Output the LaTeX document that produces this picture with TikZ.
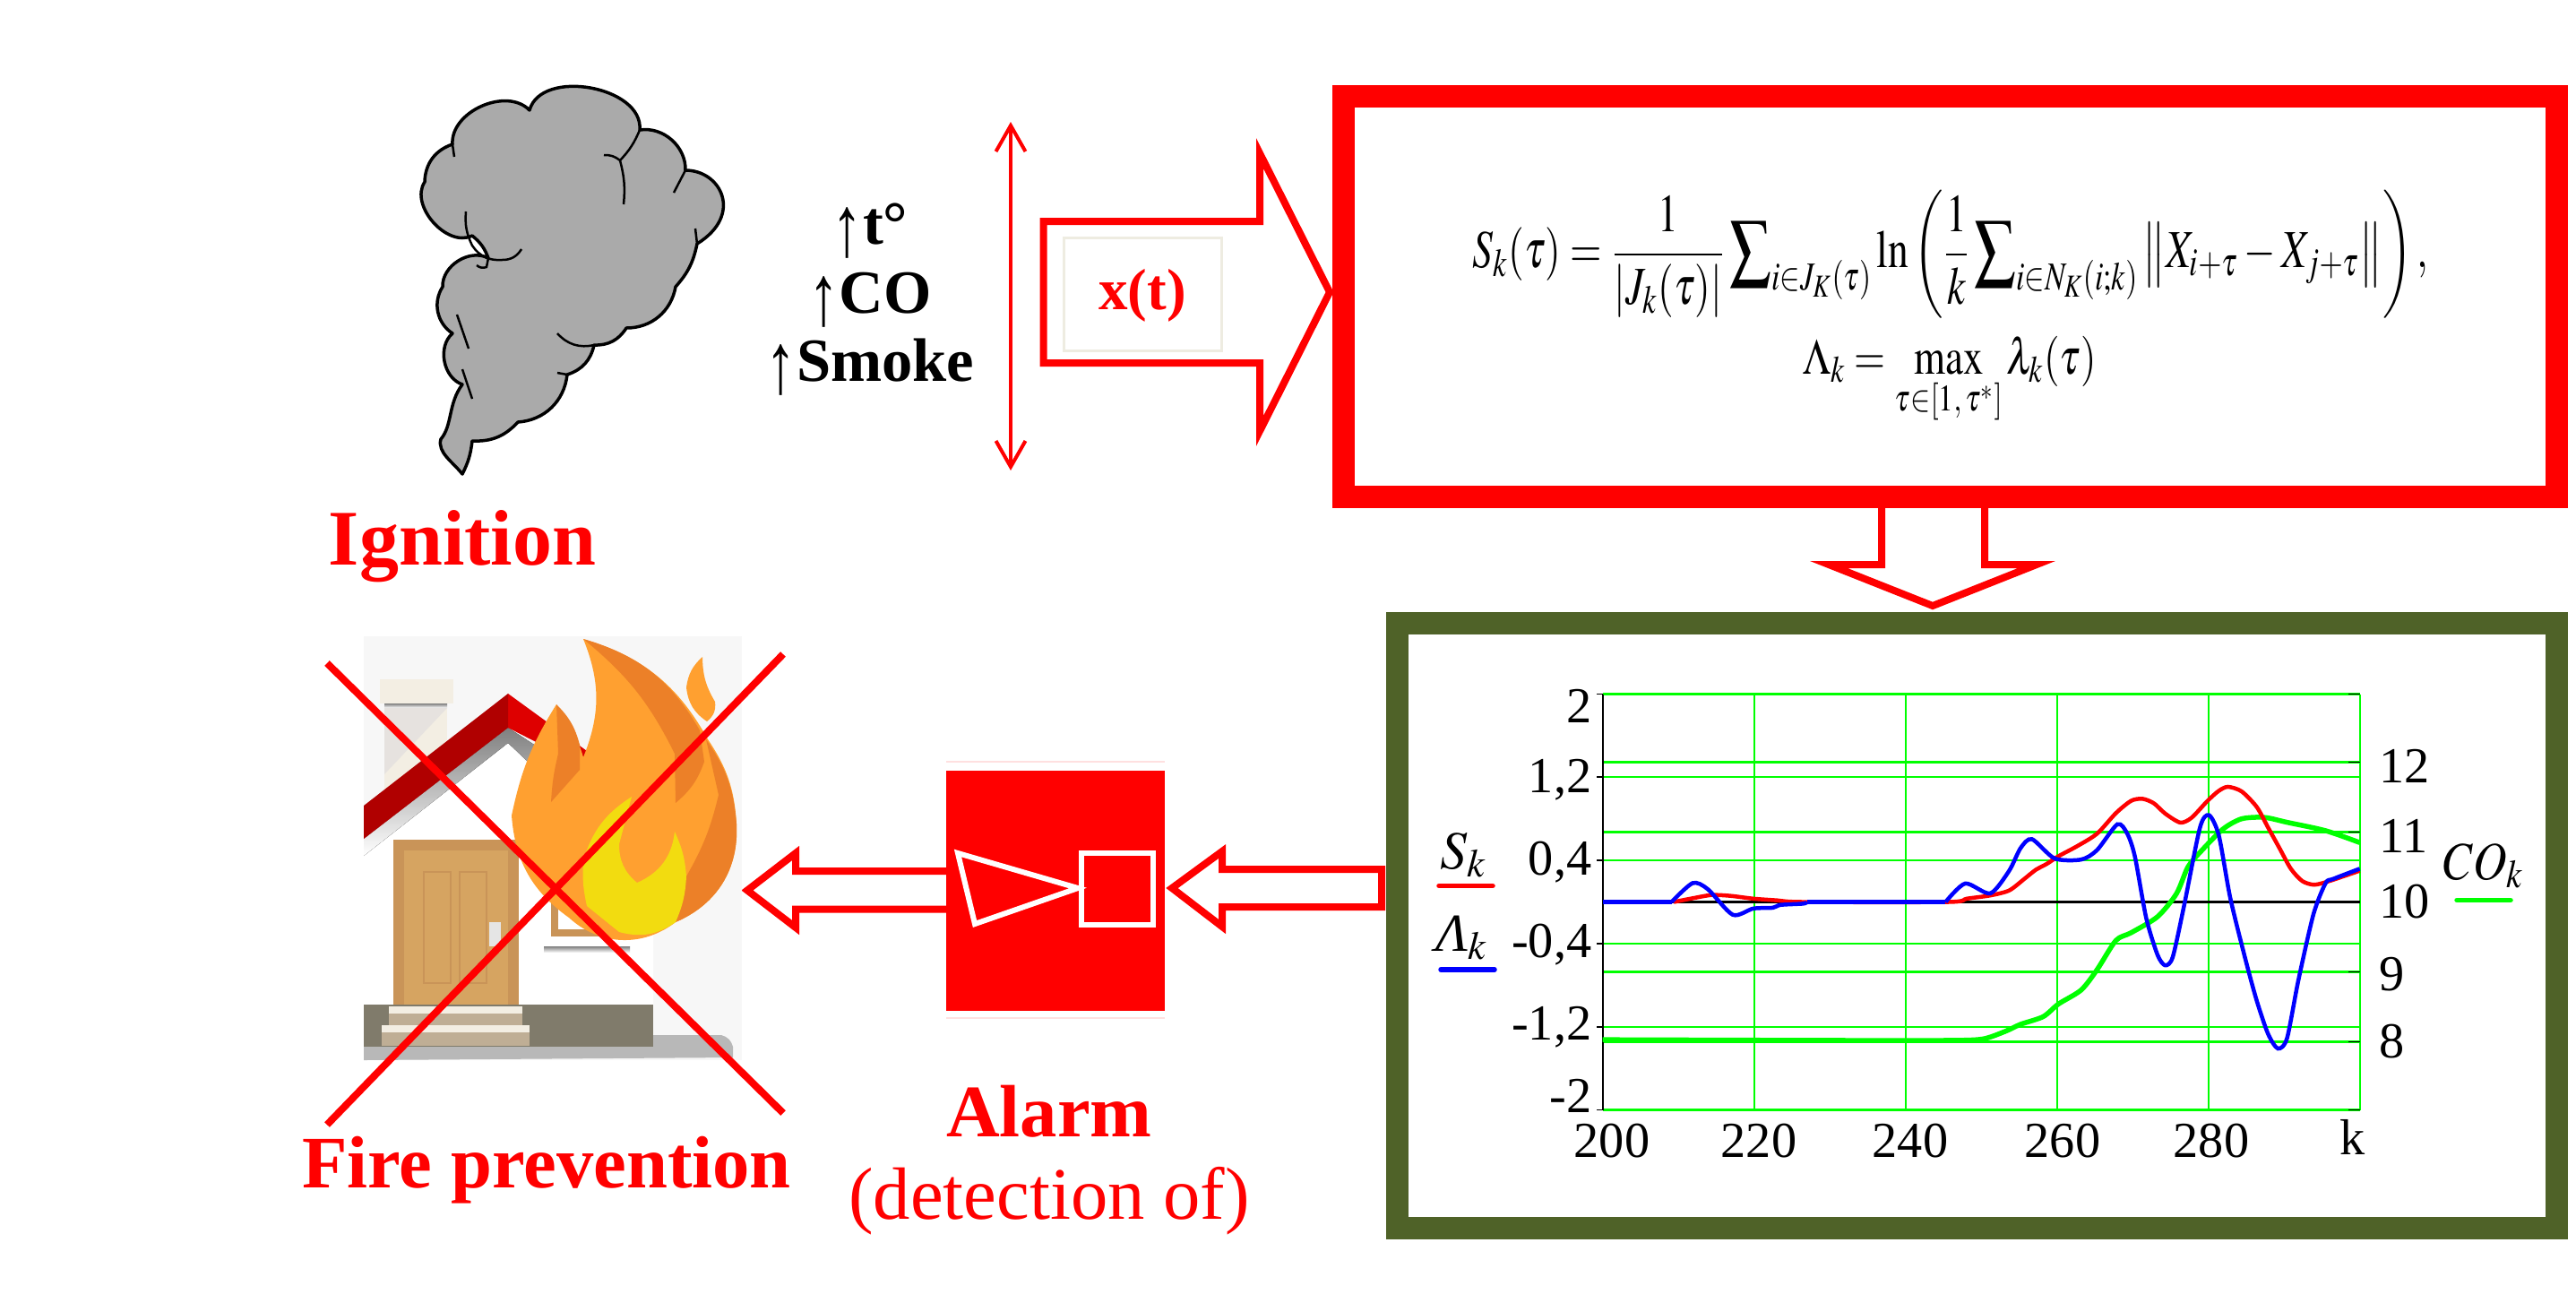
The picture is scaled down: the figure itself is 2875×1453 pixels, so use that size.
\documentclass[tikz,border=0pt]{standalone}
\usepackage{amsmath}
\usepackage{graphicx}
\usepackage{mathptmx}
\usepackage[no-math]{fontspec}
\setmainfont{Liberation Serif}
\usetikzlibrary{arrows.meta}
\definecolor{olivebox}{RGB}{79,98,40}
\definecolor{smokegray}{RGB}{170,170,170}
\definecolor{flamelight}{RGB}{255,160,48}
\definecolor{flamedark}{RGB}{236,128,40}
\definecolor{flameyellow}{RGB}{242,220,16}
\definecolor{doorframe}{RGB}{201,148,88}
\definecolor{doorfill}{RGB}{214,164,97}
\definecolor{cream}{RGB}{243,238,227}
\definecolor{shade}{RGB}{213,206,201}
\definecolor{stone}{RGB}{128,123,107}
\definecolor{steptan}{RGB}{191,174,149}
\definecolor{beigeline}{RGB}{238,236,225}
\def \xu{0.01cm}
\newcommand{\xx}[1]{#1*8.45+98.6}
\newcommand{\xy}[1]{#1*-116+1006.5}
\newcommand{\xz}[1]{#1*-78+1786.5}
\newcommand{\upmark}{\raisebox{-0.2em}{\scalebox{1}[1.4]{\normalfont↑}}}
\tikzset{
	redtext/.style={text=red, font=\fontsize{25}{28}\selectfont\bfseries, inner sep=0pt},
	sigtext/.style={font=\fontsize{19.5}{24}\selectfont\bfseries, inner sep=0pt},
	ticktext/.style={font=\fontsize{16}{18}\selectfont, inner sep=0pt},
	blockarrow/.style={draw=red, fill=white, line width=8*\xu, miter limit=10},
	frameline/.style={line width=25*\xu},
	helpline/.style={green, line width=2.2*\xu},
	curve/.style={line width=4.5*\xu, smooth, tension=0.45},
	legendline/.style={line width=5.5*\xu, line cap=round},
	crossline/.style={red, line width=8*\xu},
	cloudline/.style={black, line width=2.5*\xu}
}
\begin{document}
\begin{tikzpicture}[x=\xu, y=-\xu]

\useasboundingbox (0,0) rectangle (2875,1453);

% smoke
\draw[fill=smokegray, draw=black, line width=3.5*\xu, line join=round] (516,429)
	to[bend left=60] (505,372)
	to[bend left=45] (494,320)
	to[bend left=60] (545,288)
	to[bend right=15] (527,263)
	to[bend left=75] (474,203)
	to[bend left=35] (505,161)
	to[bend left=70] (591,123)
	to[bend left=85] (714,145)
	to[bend left=50] (765,190)
	.. controls (805,190) and (830,240) .. (778,272)
	to[bend left=15] (754,320)
	to[bend left=40] (699,366)
	to[bend left=30] (663,385)
	to[bend left=30] (633,418)
	to[bend left=40] (578,471)
	to[bend left=25] (527,492)
	to[bend left=10] (516,529)
	.. controls (505,515) and (488,505) .. (492,490)
	.. controls (505,475) and (500,450) .. (516,429) -- cycle;
\draw[cloudline] (674,173) to[bend left=20] (692,179) to[bend left=10] (696,228);
\draw[cloudline] (714,145) to[bend left=10] (692,179);
\draw[cloudline] (765,190) -- (752,215);
\draw[cloudline] (778,272) -- (776,255);
\draw[cloudline] (520,236) to[bend right=15] (527,274) to[bend right=30] (560,290) to[bend right=30] (582,278);
\draw[cloudline] (505,161) -- (507,175);
\draw[cloudline] (622,372) to[bend right=30] (663,385);
\draw[cloudline] (633,418) -- (622,416);
\draw[cloudline] (516,412) -- (527,445);
\draw[cloudline] (510,351) -- (523,389);
\draw[cloudline] (545,288) -- (543,298) to[bend left=30] (532,296);

\node[redtext, anchor=base] (ignition) at (516,630) {Ignition};

% measured signals
\node[sigtext, anchor=base] (sigt) at (971,272) {\upmark t°};
\node[sigtext, anchor=base] (sigco) at (971,349) {\upmark CO};
\node[sigtext, anchor=base] (sigsmoke) at (971,425) {\upmark Smoke};

\coordinate (spanup) at (1128,136);
\coordinate (spandown) at (1128,525);
\draw[red, line width=4*\xu, {Straight Barb[length=29*\xu, width=33*\xu]}-{Straight Barb[length=29*\xu, width=33*\xu]}] (spanup) -- (spandown);

% x(t) arrow
\coordinate (xtip) at (1484,326);
\draw[blockarrow] (xtip) -- ++(-78,-155) -- ++(0,76) -- ++(-241.5,0) -- ++(0,158) -- ++(241.5,0) -- ++(0,76) -- cycle;
\draw[beigeline, line width=3*\xu] (1187,265) rectangle (1363,391);
\node[redtext, font=\fontsize{18.5}{22}\selectfont\bfseries] (xt) at (1275,330) {x(t)};

% arrow down to the chart
\coordinate (downtip) at (2157,676);
\draw[blockarrow] (downtip) -- ++(116,-46) -- ++(-58,0) -- ++(0,-70) -- ++(-115,0) -- ++(0,70) -- ++(-59,0) -- cycle;

% formula box
\draw[red, frameline, fill=white] (1499.5,107) rectangle (2853.5,554.5);
\node[font=\fontsize{16}{18}\selectfont, inner sep=0pt] (formS) at (2177,284) {\scalebox{0.81}[1.06]{$\displaystyle S_k(\tau)=\frac{1}{\left|J_k(\tau)\right|}\sum\nolimits_{i\in J_K(\tau)}\ln\left(\frac{1}{k}\sum\nolimits_{i\in N_K(i;k)}\left\|X_{i+\tau}-X_{j+\tau}\right\|\right),$}};
\node[font=\fontsize{16}{18}\selectfont, inner sep=0pt] (formL) at (2176,425) {\scalebox{0.8}[1]{$\displaystyle \Lambda_k=\max_{\tau\in[1,\,\tau^*]}\lambda_k(\tau)$}};

% chart box
\draw[olivebox, frameline, fill=white] (1559,695) rectangle (2853.5,1370);

\foreach \x in {220, 240, 260, 280, 300} {
	\draw[helpline] (\xx{\x}, \xy{-2}) -- (\xx{\x}, \xy{2}); % x help line
}
\foreach \y in {-2, -1.2, -0.4, 0.4, 1.2, 2} {
	\draw[helpline] (\xx{200}, \xy{\y}) -- (\xx{300}, \xy{\y}); % y help line
	\draw[black, line width=1.8*\xu] (1782, \xy{\y}) -- (\xx{200}, \xy{\y}); % y tick
}
\foreach \c in {8, 9, 11, 12} {
	\draw[helpline] (\xx{200}, \xz{\c}) -- (\xx{300}, \xz{\c}); % right help line
	\draw[black, line width=1.8*\xu] (2621, \xz{\c}) -- (\xx{300}, \xz{\c}); % right tick
}
\foreach \y in {-2, 2} {
	\draw[black, line width=1.8*\xu] (2621, \xy{\y}) -- (\xx{300}, \xy{\y});
}

\draw[black, line width=2.2*\xu] (\xx{200}, \xy{-2}) -- (\xx{200}, \xy{2}); % y axis
\draw[black, line width=2.2*\xu] (\xx{200}, \xy{0}) -- (\xx{300}, \xy{0}); % zero line

\foreach \t/\b [count=\i] in {2/806, {1,2}/884, {0,4}/976, {-0,4}/1068, {-1,2}/1160, -2/1241} {
	\node[ticktext, anchor=base east] (ylab\i) at (1777, \b) {\t}; % left label
}
\foreach \t/\b [count=\i] in {12/873, 11/951, 10/1024, 9/1105, 8/1180} {
	\node[ticktext, anchor=base west] (zlab\i) at (2655, \b) {\t}; % right label
}
\foreach \t/\p [count=\i] in {200/1799, 220/1963, 240/2132, 260/2302, 280/2468} {
	\node[ticktext, anchor=base] (xlab\i) at (\p, 1291) {\t}; % x label
}
\node[ticktext, anchor=base] (xlabk) at (2626, 1288) {k};

\draw[green, curve, line width=5.5*\xu] plot coordinates {
	(\xx{200.0}, \xz{8.03})
	(\xx{230.0}, \xz{8.02})
	(\xx{245.6}, \xz{8.02})
	(\xx{250.2}, \xz{8.04})
	(\xx{253.2}, \xz{8.15})
	(\xx{255.2}, \xz{8.25})
	(\xx{258.2}, \xz{8.36})
	(\xx{260.2}, \xz{8.54})
	(\xx{263.2}, \xz{8.74})
	(\xx{265.3}, \xz{9.03})
	(\xx{267.8}, \xz{9.45})
	(\xx{269.8}, \xz{9.56})
	(\xx{273.3}, \xz{9.79})
	(\xx{275.8}, \xz{10.12})
	(\xx{277.3}, \xz{10.5})
	(\xx{278.9}, \xz{10.71})
	(\xx{281.9}, \xz{11.04})
	(\xx{284.4}, \xz{11.19})
	(\xx{287.4}, \xz{11.21})
	(\xx{290.4}, \xz{11.14})
	(\xx{295.5}, \xz{11.02})
	(\xx{300.0}, \xz{10.85})};

\draw[red, curve] plot coordinates {
	(\xx{209.4}, \xy{0})
	(\xx{211.9}, \xy{.036})
	(\xx{214.4}, \xy{.067})
	(\xx{216.9}, \xy{.059})
	(\xx{219.9}, \xy{.032})
	(\xx{223.0}, \xy{.016})
	(\xx{226.5}, \xy{0})
	(\xx{245.6}, \xy{0})
	(\xx{248.1}, \xy{.032})
	(\xx{251.2}, \xy{.063})
	(\xx{253.7}, \xy{.111})
	(\xx{255.7}, \xy{.222})
	(\xx{257.2}, \xy{.309})
	(\xx{258.7}, \xy{.368})
	(\xx{260.2}, \xy{.44})
	(\xx{262.7}, \xy{.538})
	(\xx{265.3}, \xy{.657})
	(\xx{267.8}, \xy{.855})
	(\xx{269.8}, \xy{.973})
	(\xx{271.3}, \xy{.993})
	(\xx{272.8}, \xy{.95})
	(\xx{274.3}, \xy{.851})
	(\xx{276.3}, \xy{.764})
	(\xx{277.8}, \xy{.811})
	(\xx{279.9}, \xy{.973})
	(\xx{281.4}, \xy{1.07})
	(\xx{282.6}, \xy{1.108})
	(\xx{284.4}, \xy{1.064})
	(\xx{286.4}, \xy{.914})
	(\xx{287.9}, \xy{.716})
	(\xx{289.4}, \xy{.518})
	(\xx{290.9}, \xy{.32})
	(\xx{292.4}, \xy{.202})
	(\xx{294.0}, \xy{.166})
	(\xx{296.0}, \xy{.202})
	(\xx{300.0}, \xy{.301})};

\draw[blue, line width=4.5*\xu] (\xx{200}, \xy{0}) -- (\xx{209.1}, \xy{0}); % flat start
\draw[blue, line width=4.5*\xu] (\xx{227}, \xy{0}) -- (\xx{245.3}, \xy{0});
\draw[blue, curve] plot coordinates {
	(\xx{209.1}, \xy{0})
	(\xx{211.9}, \xy{.182})
	(\xx{213.9}, \xy{.123})
	(\xx{217.2}, \xy{-.123})
	(\xx{219.9}, \xy{-.063})
	(\xx{222.5}, \xy{-.055})
	(\xx{223.5}, \xy{-.028})
	(\xx{226.5}, \xy{-.016})
	(\xx{227.0}, \xy{0})};
\draw[blue, curve] plot coordinates {
	(\xx{245.3}, \xy{0})
	(\xx{247.9}, \xy{.178})
	(\xx{251.2}, \xy{.083})
	(\xx{253.7}, \xy{.301})
	(\xx{255.2}, \xy{.518})
	(\xx{256.7}, \xy{.605})
	(\xx{259.7}, \xy{.419})
	(\xx{263.2}, \xy{.408})
	(\xx{265.3}, \xy{.499})
	(\xx{268.0}, \xy{.748})
	(\xx{269.3}, \xy{.657})
	(\xx{270.3}, \xy{.439})
	(\xx{271.8}, \xy{-.154})
	(\xx{273.3}, \xy{-.51})
	(\xx{274.3}, \xy{-.609})
	(\xx{275.3}, \xy{-.53})
	(\xx{276.8}, \xy{-.036})
	(\xx{278.9}, \xy{.716})
	(\xx{280.1}, \xy{.835})
	(\xx{281.4}, \xy{.637})
	(\xx{282.9}, \xy{.04})
	(\xx{284.9}, \xy{-.55})
	(\xx{286.4}, \xy{-.95})
	(\xx{287.9}, \xy{-1.27})
	(\xx{289.2}, \xy{-1.41})
	(\xx{290.4}, \xy{-1.31})
	(\xx{291.9}, \xy{-.752})
	(\xx{293.9}, \xy{-.115})
	(\xx{295.5}, \xy{.182})
	(\xx{296.5}, \xy{.222})
	(\xx{300.0}, \xy{.32})};

% legend
\node[ticktext, font=\fontsize{17}{20}\selectfont, anchor=base] (legS) at (1634,969) {$S_k$};
\draw[red, legendline] (1606,988.5) -- (1666,988.5);
\node[ticktext, font=\fontsize{17}{20}\selectfont, anchor=base] (legL) at (1632,1061) {\textit{Λ}$_k$};
\draw[blue, legendline] (1608,1082) -- (1668,1082);
\node[ticktext, font=\fontsize{17}{20}\selectfont, anchor=base] (legCO) at (2772,981) {\scalebox{0.87}[1]{$CO_k$}};
\draw[green, legendline] (2742,1004.5) -- (2802,1004.5);

% arrows to and from the alarm
\coordinate (charttip) at (1308,991);
\draw[blockarrow] (charttip) -- ++(56,-41) -- ++(0,20) -- ++(178,0) -- ++(0,42) -- ++(-178,0) -- ++(0,22) -- cycle;
\coordinate (firetip) at (834,993.5);
\draw[blockarrow] (firetip) -- ++(54,-41.5) -- ++(0,20) -- ++(172,0) -- ++(0,42.5) -- ++(-172,0) -- ++(0,20.5) -- cycle;

% alarm
\fill[red!12] (1056,849) rectangle (1300,851);
\fill[red!12] (1056,1135) rectangle (1300,1137);
\fill[red] (1056,860) rectangle (1300,1128);
\draw[white, line width=6*\xu] (1069,952) -- (1203,991) -- (1088,1031) -- cycle;
\draw[white, line width=6*\xu] (1206.5,952) rectangle (1287,1032);
\node[redtext, font=\fontsize{23.5}{28}\selectfont\bfseries, anchor=base] (alarm) at (1171,1268) {Alarm};
\node[redtext, font=\fontsize{23.5}{28}\selectfont, anchor=base] (detection) at (1171,1360) {(detection of)};

% house
\fill[black!3] (406,710) rectangle (828,1183);
\fill[cream] (424,758) rectangle (506,785);
\fill[shade] (429,785) rectangle (499,790);
\fill[cream] (429,790) rectangle (499,880);
\fill[shade!60] (429,864) -- (499,790) -- (429,790) -- cycle;
\fill[white] (406,955) -- (567,829) -- (729,1000) -- (729,1121) -- (406,1121) -- cycle;
\fill[shade] (406,936) -- (567,812) -- (610,840) -- (600,860) -- (567,829) -- (406,955) -- cycle;
\fill[red!87!black] (567,774) -- (655,838) -- (655,857) -- (567,812) -- cycle;
\fill[red!69!black] (406,899) -- (567,774) -- (567,812) -- (406,936) -- cycle;
\fill[doorframe] (615,960) rectangle (696,1045);
\fill[white] (623,965) rectangle (688,1037);
\fill[shade] (607,1056) rectangle (703,1063);
\fill[doorframe] (439,937) rectangle (579,1123);
\fill[doorfill] (451,949) rectangle (567,1123);
\draw[doorframe, line width=2*\xu] (473,973) rectangle (503,1097);
\draw[doorframe, line width=2*\xu] (513,973) rectangle (543,1097);
\fill[white!90!black] (546,1029) rectangle (559,1056);
\fill[stone] (406,1121) rectangle (729,1168);
\fill[cream] (434,1123) rectangle (583,1131);
\fill[steptan] (434,1131) rectangle (583,1144);
\fill[cream] (426,1144) rectangle (591,1152);
\fill[steptan] (426,1152) rectangle (591,1167);
\fill[black!28] (406,1168) -- (729,1168) -- (729,1155) -- (805,1155) to[bend left=30] (818,1168) -- (818,1180) -- (406,1183) -- cycle;

% flame
\fill[flamelight] (651,713) to[bend left=22] (790,825)
	to[bend left=15] (822,919)
	to[bend left=35] (754,1029)
	to[bend left=40] (635,1024)
	to[bend left=25] (571,910)
	to[bend left=10] (621,786)
	to[bend left=10] (651,845)
	to[bend right=22] (651,713) -- cycle;
\fill[flamedark] (651,713) to[bend left=22] (781,815) -- (786,850) to[bend left=15] (754,896) -- (753,841) to[bend right=12] (651,713) -- cycle;
\fill[flamedark] (788,825) to[bend left=15] (822,919) to[bend left=35] (754,1029) -- (766,978) to[bend right=8] (802,887) -- cycle;
\fill[flamedark] (621,786) to[bend left=15] (647,831) -- (647,859) -- (615,895) to[bend left=5] (623,841) -- cycle;
\fill[flamelight] (784,733) to[bend right=20] (766,767) to[bend right=25] (789,805) to[bend right=30] (798,783) to[bend left=15] (784,733) -- cycle;
\fill[flameyellow] (705,889) to[bend right=20] (651,960) to[bend right=8] (655,1011) -- (691,1040) to[bend right=25] (754,1029) to[bend right=10] (766,978) to[bend right=10] (753,928) to[bend left=30] (711,985) to[bend left=25] (691,942) -- (705,889) -- cycle;

% cross over the house
\coordinate (crossa) at (365,740);
\coordinate (crossb) at (874,1242);
\coordinate (crossc) at (874,730);
\coordinate (crossd) at (365,1255);
\draw[crossline] (crossa) -- (crossb);
\draw[crossline] (crossc) -- (crossd);

\node[redtext, font=\fontsize{23.5}{28}\selectfont\bfseries, anchor=base] (prevention) at (610,1325) {Fire prevention};

\end{tikzpicture}
\end{document}
